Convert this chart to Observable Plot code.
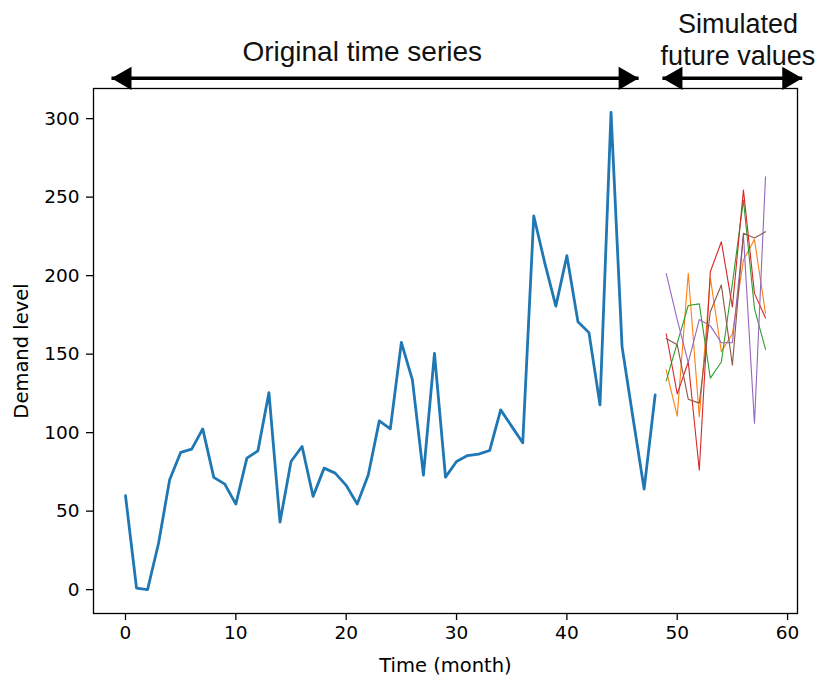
<!DOCTYPE html>
<html>
<head>
<meta charset="utf-8">
<script src="https://cdn.jsdelivr.net/npm/d3@7"></script>
<script src="https://cdn.jsdelivr.net/npm/@observablehq/plot@0.6"></script>
<style>
  html, body { margin: 0; padding: 0; background: #fff; }
</style>
</head>
<body>
<div id="chart"></div>
<script>
// ---- Data ----
// Original series: demand level for months 0..48
const demand = [59.8, 1, 0, 29.7, 70, 87.4, 89.5, 102.4, 71.5, 67.2,
  54.5, 83.8, 88.4, 125.5, 43, 81.6, 91.2, 59.4, 77.4, 74.2,
  66.4, 54.5, 73, 107.5, 102.4, 157.5, 133.6, 73, 150.5, 71.7,
  81.6, 85.4, 86.3, 88.6, 114.5, 104, 93.5, 238, 208, 180.6,
  212.7, 170.7, 163.7, 117.7, 304, 154.8, 109, 64, 124];

// Simulated future months
const simMonths = [49, 50, 51, 52, 53, 54, 55, 56, 57, 58];
const simOrange = [140, 110.5, 201.5, 110, 198.5, 151.6, 163, 210, 223, 176];
const simGreen  = [133, 157, 181, 182, 134.7, 145, 195, 248, 179, 153];
const simRed    = [163, 124.7, 145, 76, 202.5, 221.6, 180, 254.5, 188.7, 173];
const simPurple = [201.4, 172, 144.6, 172, 168, 157.3, 157.3, 226, 106, 263];
const simBrown  = [160, 156, 121.3, 118.8, 177, 194, 143, 227, 224, 228];

const xTicks = [0, 10, 20, 30, 40, 50, 60];
const yTicks = [0, 50, 100, 150, 200, 250, 300];

// Annotation spans (data coordinates) and labels
const spanOriginal = {x1: -1.27, x2: 46.5, y: 325.7};
const spanSimulated = {x1: 48.66, x2: 61.33, y: 325.7};
const labelOriginal = {x: 21.45, y: 337.0, text: "Original time series"};
const labelSimulated = {x: 55.5, y: 333.85, text: "Simulated\nfuture values"};

// ---- Build tables ----
const original = demand.map((v, i) => ({t: i, v}));
const simSeries = [
  {name: "orange", color: "#ff7f0e", values: simOrange},
  {name: "green", color: "#2ca02c", values: simGreen},
  {name: "red", color: "#d62728", values: simRed},
  {name: "purple", color: "#9467bd", values: simPurple},
  {name: "brown", color: "#8c564b", values: simBrown}
];
const spans = [spanOriginal, spanSimulated];

const yMax = d3.max(demand), yPad = 0.05 * yMax;

const chart = Plot.plot({
  width: 827,
  height: 681,
  marginLeft: 93,
  marginRight: 30,
  marginTop: 88,
  marginBottom: 68,
  x: {domain: [-2.9, 60.9]},
  y: {domain: [-yPad, yMax + yPad]},
  style: {fontFamily: "DejaVu Sans", fontSize: "18px", color: "black", background: "white", overflow: "visible"},
  marks: [
    Plot.line(original, {x: "t", y: "v", stroke: "#1f77b4", strokeWidth: 2.8, strokeLinejoin: "round"}),
    ...simSeries.map(s =>
      Plot.line(simMonths.map((t, i) => ({t, v: s.values[i]})),
        {x: "t", y: "v", stroke: s.color, strokeWidth: 1.1})
    ),
    Plot.frame({stroke: "black", strokeWidth: 1.3}),
    Plot.axisX({ticks: xTicks, tickSize: 7, tickPadding: 5, label: null, fontSize: 18.5, strokeWidth: 1.3}),
    Plot.axisY({ticks: yTicks, tickSize: 7, tickPadding: 7, label: null, fontSize: 18.5, strokeWidth: 1.3}),
    Plot.text(["Time (month)"], {frameAnchor: "bottom", textAnchor: "middle", lineAnchor: "bottom", dy: 58, fontSize: 19.5, fill: "black"}),
    Plot.text(["Demand level"], {frameAnchor: "left", textAnchor: "middle", rotate: -90, dx: -72, fontSize: 19.5, fill: "black"}),
    // annotation arrows
    Plot.link(spans, {x1: "x1", x2: "x2", y1: "y", y2: "y", stroke: "black", strokeWidth: 3.5}),
    Plot.dot(spans, {x: "x1", y: "y", symbol: "triangle", r: 8.6, rotate: -90, dx: 13.3, fill: "black", stroke: "none"}),
    Plot.dot(spans, {x: "x2", y: "y", symbol: "triangle", r: 8.6, rotate: 90, dx: -13.3, fill: "black", stroke: "none"}),
    Plot.text([labelOriginal], {x: "x", y: "y", text: "text", lineAnchor: "bottom", fontSize: 28, fontFamily: "Liberation Sans", fill: "#111"}),
    Plot.text([labelSimulated], {x: "x", y: "y", text: "text", lineAnchor: "bottom", lineHeight: 1.22, fontSize: 27, fontFamily: "Liberation Sans", fill: "#111"})
  ]
});
document.getElementById("chart").appendChild(chart);
</script>
</body>
</html>
